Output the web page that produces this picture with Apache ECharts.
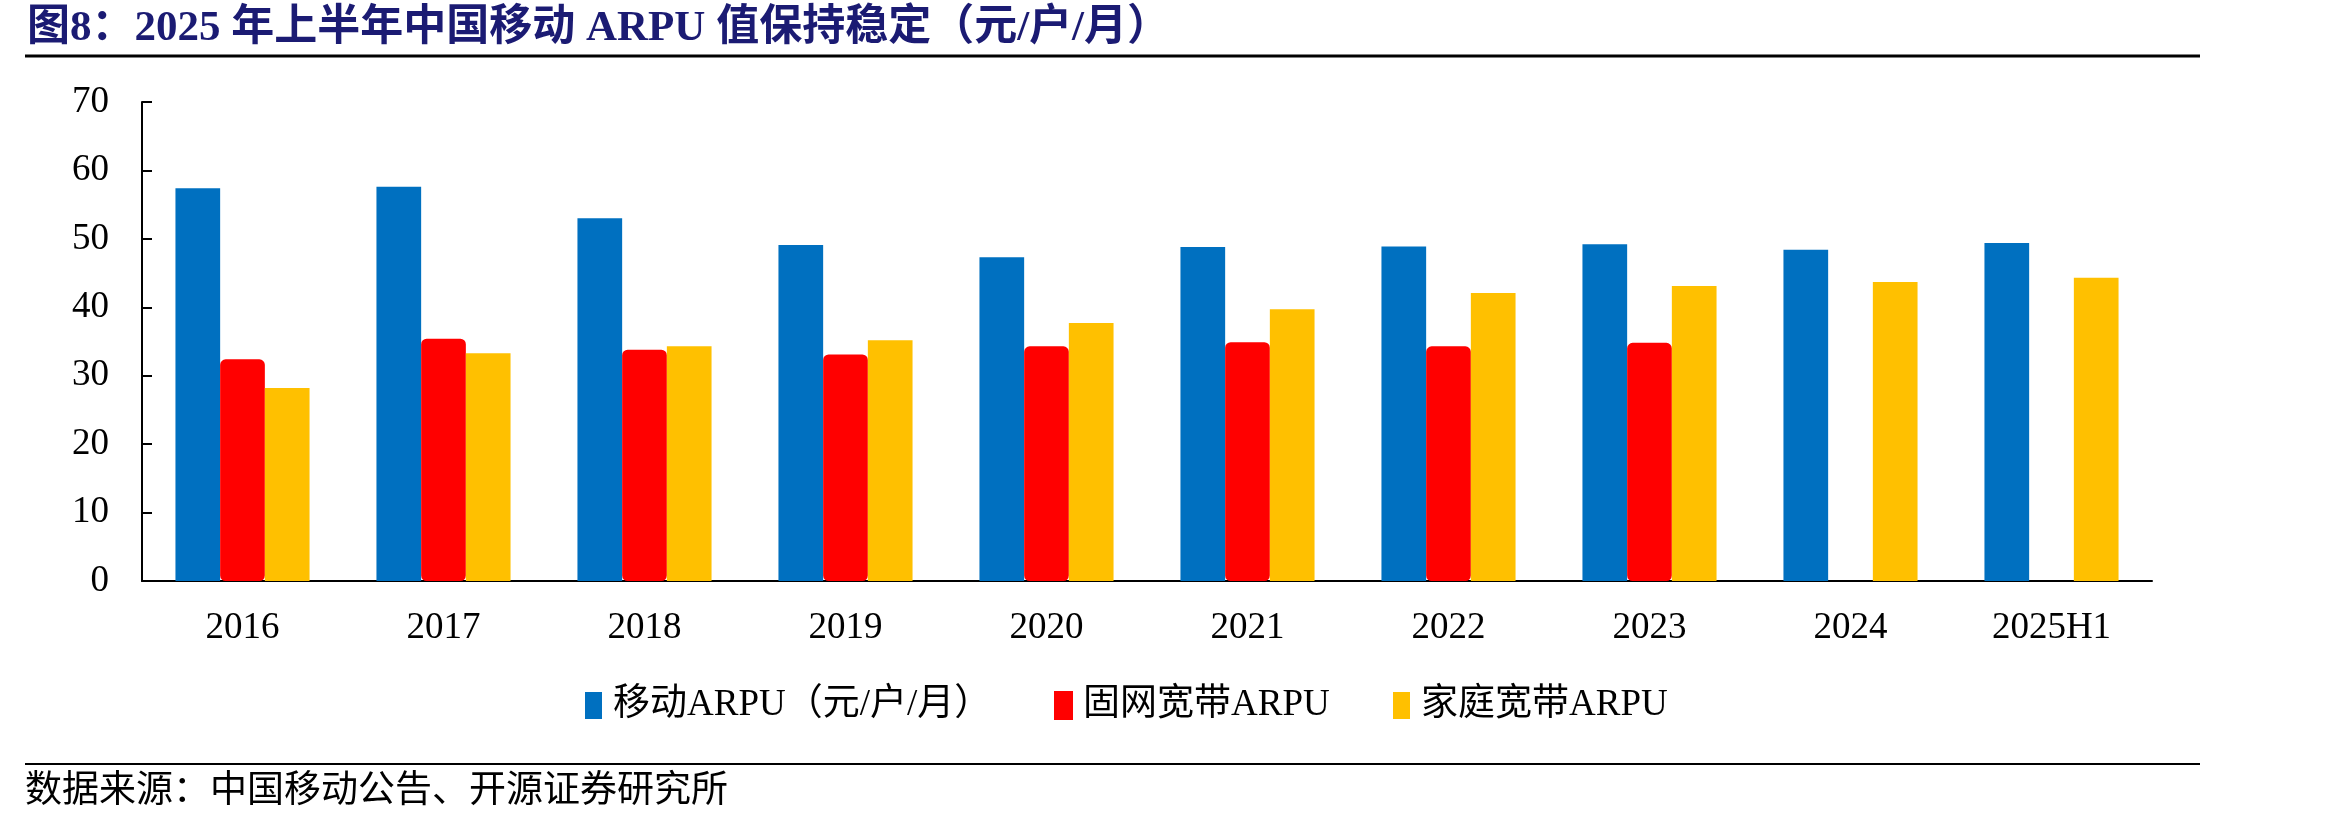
<!DOCTYPE html>
<html>
<head>
<meta charset="utf-8">
<script src="https://cdn.jsdelivr.net/npm/echarts@6/dist/echarts.min.js"></script>
<style>
  html, body { margin: 0; padding: 0; background: #ffffff; }
  #chart { width: 2327px; height: 823px; }
</style>
</head>
<body>
<div id="chart"></div>
<script>
// ---- data ----
const categories = ['2016', '2017', '2018', '2019', '2020', '2021', '2022', '2023', '2024', '2025H1'];
const seriesNames = ['移动ARPU（元/户/月）', '固网宽带ARPU', '家庭宽带ARPU'];
const mobileArpu = [57.4, 57.6, 53.0, 49.1, 47.3, 48.8, 48.9, 49.2, 48.4, 49.4];
const fixedBroadbandArpu = [32.4, 35.4, 33.8, 33.1, 34.3, 34.9, 34.3, 34.8, null, null];
const homeBroadbandArpu = [28.2, 33.3, 34.3, 35.2, 37.7, 39.7, 42.1, 43.1, 43.7, 44.3];
const yMin = 0, yMax = 70, yInterval = 10;
const titleText = '图8：2025 年上半年中国移动 ARPU 值保持稳定（元/户/月）';
const sourceText = '数据来源：中国移动公告、开源证券研究所';

const serif = "'Times New Roman','Liberation Serif','Noto Sans CJK SC'";
const colors = ['#0070C0', '#FF0000', '#FFC000'];

const chart = echarts.init(document.getElementById('chart'), null, { renderer: 'canvas' });

function legendFor(i, left) {
  return {
    data: [seriesNames[i]],
    left: left,
    top: 687,
    icon: 'rect',
    itemWidth: 17,
    itemHeight: 27,
    itemGap: 0,
    padding: 0,
    selectedMode: false,
    textStyle: { fontFamily: serif, fontSize: 37, color: '#000', padding: [0, 0, 0, 6] }
  };
}

chart.setOption({
  animation: false,
  backgroundColor: '#ffffff',
  title: {
    text: titleText,
    left: 22,
    top: 2,
    textStyle: { fontFamily: serif, fontSize: 43, fontWeight: 'bold', color: '#1B1B73' }
  },
  graphic: [
    { type: 'line', shape: { x1: 25, y1: 56, x2: 2200, y2: 56 }, style: { stroke: '#000', lineWidth: 3 } },
    { type: 'line', shape: { x1: 25, y1: 764, x2: 2200, y2: 764 }, style: { stroke: '#000', lineWidth: 2 } },
    { type: 'text', left: 25, top: 769, style: { text: sourceText, font: "37px 'Noto Sans CJK SC'", fill: '#000' } }
  ],
  legend: [legendFor(0, 585), legendFor(1, 1054), legendFor(2, 1393)],
  grid: { left: 142, right: 175, top: 102, bottom: 242, containLabel: false },
  xAxis: {
    type: 'category',
    data: categories,
    boundaryGap: true,
    axisLine: { lineStyle: { color: '#000', width: 2 } },
    axisTick: { inside: true, length: 9, lineStyle: { color: '#000', width: 2 } },
    axisLabel: { margin: 29, fontFamily: serif, fontSize: 37, color: '#000' },
    splitLine: { show: false }
  },
  yAxis: {
    type: 'value',
    min: yMin,
    max: yMax,
    interval: yInterval,
    axisLine: { show: true, lineStyle: { color: '#000', width: 2 } },
    axisTick: { show: true, inside: true, length: 10, lineStyle: { color: '#000', width: 2 } },
    axisLabel: { margin: 33, fontFamily: serif, fontSize: 37, color: '#000' },
    splitLine: { show: false }
  },
  series: [
    {
      name: seriesNames[0], type: 'bar', data: mobileArpu,
      barWidth: 44.7, barGap: '0%',
      itemStyle: { color: colors[0] }
    },
    {
      name: seriesNames[1], type: 'bar', data: fixedBroadbandArpu,
      barWidth: 44.7, barGap: '0%',
      itemStyle: { color: colors[1], borderColor: colors[1], borderWidth: 5, borderRadius: 3 }
    },
    {
      name: seriesNames[2], type: 'bar', data: homeBroadbandArpu,
      barWidth: 44.7, barGap: '0%',
      itemStyle: { color: colors[2] }
    }
  ]
});
</script>
</body>
</html>
